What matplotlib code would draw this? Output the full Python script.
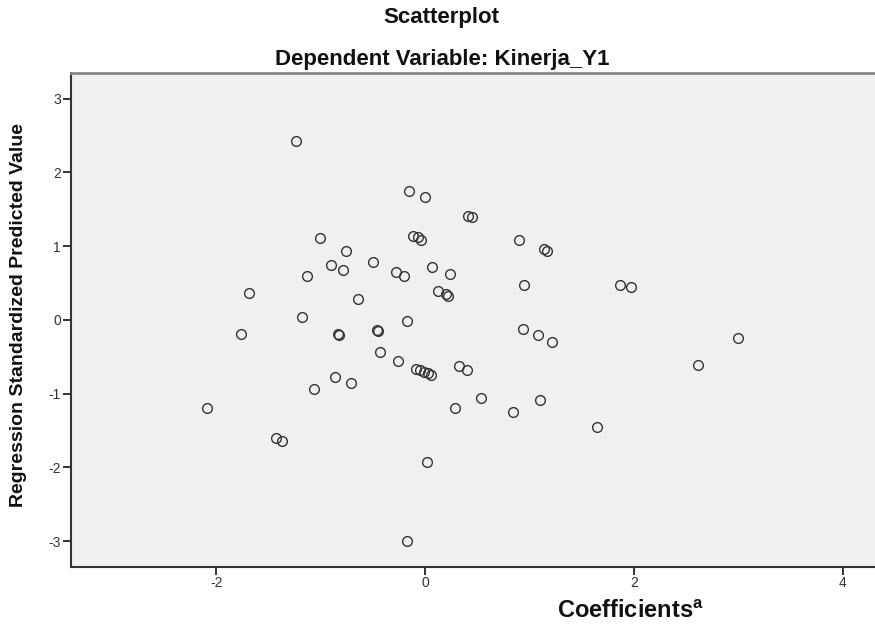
import matplotlib
matplotlib.use("Agg")
import matplotlib.pyplot as plt

# Data (regression residual scatterplot)
x_vals = [-1.24, -1.01, -0.76, -0.90, -0.79, -0.50, -1.13, -1.69, -0.64, -1.18,
          -0.15, 0.00, 0.41, 0.45, -0.12, -0.07, -0.04, 0.90, 1.14, 1.17,
          -0.28, -0.20, 0.07, 0.24, 0.12, 0.20, 0.22, 0.95, 1.87, 1.97,
          -0.17, -1.76, -0.83, -0.82, -0.46, -0.45, -0.43, -0.86, -0.71, -1.06,
          -2.09, -1.43, -1.37, -0.26, -0.09, -0.05, -0.01, 0.03, 0.06,
          0.33, 0.40, 0.94, 1.08, 1.22, 0.54, 0.29, 0.84, 1.10, 1.65,
          0.02, -0.17, 3.00, 2.61]
y_vals = [2.42, 1.11, 0.93, 0.75, 0.67, 0.79, 0.60, 0.37, 0.28, 0.04,
          1.75, 1.66, 1.41, 1.39, 1.14, 1.12, 1.09, 1.09, 0.96, 0.94,
          0.65, 0.60, 0.72, 0.62, 0.39, 0.35, 0.33, 0.47, 0.48, 0.45,
          -0.02, -0.19, -0.19, -0.20, -0.14, -0.15, -0.44, -0.78, -0.86, -0.94,
          -1.19, -1.60, -1.64, -0.56, -0.66, -0.68, -0.70, -0.72, -0.75,
          -0.63, -0.68, -0.12, -0.20, -0.30, -1.06, -1.20, -1.25, -1.09, -1.45,
          -1.92, -3.00, -0.24, -0.61]

x_ticks = [-2, 0, 2, 4]
y_ticks = [-3, -2, -1, 0, 1, 2, 3]

title_main = "Scatterplot"
title_sub = "Dependent Variable: Kinerja_Y1"
x_label = "Coefficients$^{\\mathregular{a}}$"
y_label = "Regression Standardized Predicted Value"

plt.rcParams['font.family'] = ['Liberation Sans', 'DejaVu Sans']
plt.rcParams['axes.unicode_minus'] = False

fig = plt.figure(figsize=(8.75, 6.32), dpi=100)
fig.patch.set_facecolor("white")
ax = fig.add_axes([70.7 / 875, 1 - 566.7 / 632, 1 - 70.7 / 875, (566.7 - 73) / 632])
ax.set_facecolor("#F0F0F0")

ax.plot(x_vals, y_vals, linestyle="none", marker="o", markersize=7.0,
        markerfacecolor="none", markeredgecolor="#333333", markeredgewidth=1.0)

ax.set_xlim(-3.394, 4.31)
ax.set_ylim(-3.345, 3.347)
ax.set_xticks(x_ticks)
ax.set_yticks(y_ticks)
ax.tick_params(axis="both", direction="out", length=6, width=1.4, color="#333333",
               labelsize=10, labelcolor="#333333", pad=1)

for side in ["left", "bottom"]:
    ax.spines[side].set_color("#333333")
    ax.spines[side].set_linewidth(1.5)
ax.spines["top"].set_color("#888888")
ax.spines["top"].set_linewidth(2.0)
ax.spines["right"].set_visible(False)

fig.text(441 / 875, 1 - 18 / 632, title_main, ha="center", va="center",
         fontsize=16, fontweight="bold", color="#111111")
fig.text(442 / 875, 1 - 60 / 632, title_sub, ha="center", va="center",
         fontsize=16, fontweight="bold", color="#111111")
fig.text(19 / 875, 1 - 315 / 632, y_label, ha="center", va="center", rotation=90,
         fontsize=14, fontweight="bold", color="#111111")
fig.text(630 / 875, 1 - 612 / 632, x_label, ha="center", va="center",
         fontsize=17, fontweight="bold", color="#111111")

fig.savefig("out.png", dpi=100)
